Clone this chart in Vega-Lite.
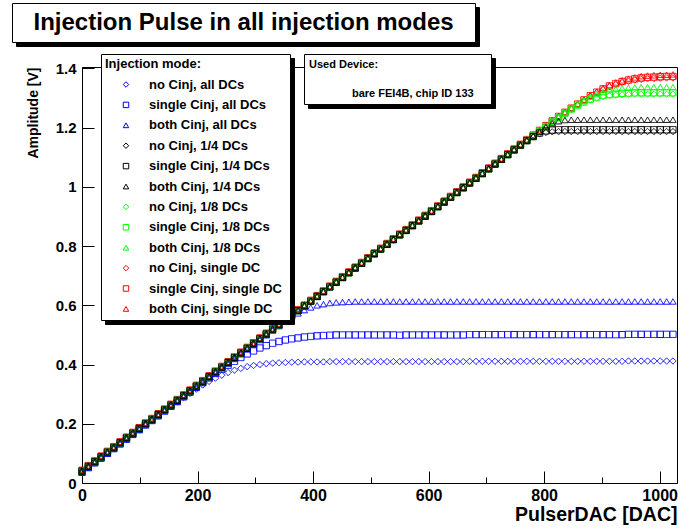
{
"$schema": "https://vega.github.io/schema/vega-lite/v6.json",
"width": 595, "height": 416,
"autosize": "none",
"padding": {"left": 82, "top": 67, "right": 4, "bottom": 48},
"background": "white",
"config": {"font": "Liberation Sans", "view": {"stroke": "black", "strokeWidth": 1}},
"datasets": {
"rows": [
{"x":0,"b1":0.036,"b2":0.036,"b3":0.036,"r1":0.043,"r2":0.043,"r3":0.043,"g1":0.04,"g2":0.04,"g3":0.04,"k1":0.04,"k2":0.04,"k3":0.04},
{"x":11,"b1":0.052,"b2":0.052,"b3":0.052,"r1":0.059,"r2":0.059,"r3":0.059,"g1":0.056,"g2":0.056,"g3":0.056,"k1":0.056,"k2":0.056,"k3":0.056},
{"x":22,"b1":0.068,"b2":0.068,"b3":0.068,"r1":0.075,"r2":0.075,"r3":0.075,"g1":0.072,"g2":0.072,"g3":0.072,"k1":0.072,"k2":0.072,"k3":0.072},
{"x":33,"b1":0.084,"b2":0.084,"b3":0.084,"r1":0.091,"r2":0.091,"r3":0.091,"g1":0.088,"g2":0.088,"g3":0.088,"k1":0.088,"k2":0.088,"k3":0.088},
{"x":44,"b1":0.1,"b2":0.1,"b3":0.1,"r1":0.107,"r2":0.107,"r3":0.107,"g1":0.104,"g2":0.104,"g3":0.104,"k1":0.104,"k2":0.104,"k3":0.104},
{"x":55,"b1":0.116,"b2":0.116,"b3":0.116,"r1":0.123,"r2":0.123,"r3":0.123,"g1":0.12,"g2":0.12,"g3":0.12,"k1":0.12,"k2":0.12,"k3":0.12},
{"x":66,"b1":0.132,"b2":0.132,"b3":0.132,"r1":0.139,"r2":0.139,"r3":0.139,"g1":0.136,"g2":0.136,"g3":0.136,"k1":0.136,"k2":0.136,"k3":0.136},
{"x":77,"b1":0.148,"b2":0.148,"b3":0.148,"r1":0.155,"r2":0.155,"r3":0.155,"g1":0.152,"g2":0.152,"g3":0.152,"k1":0.152,"k2":0.152,"k3":0.152},
{"x":88,"b1":0.164,"b2":0.164,"b3":0.164,"r1":0.171,"r2":0.171,"r3":0.171,"g1":0.168,"g2":0.168,"g3":0.168,"k1":0.168,"k2":0.168,"k3":0.168},
{"x":99,"b1":0.18,"b2":0.18,"b3":0.18,"r1":0.187,"r2":0.187,"r3":0.187,"g1":0.184,"g2":0.184,"g3":0.184,"k1":0.184,"k2":0.184,"k3":0.184},
{"x":110,"b1":0.196,"b2":0.196,"b3":0.196,"r1":0.203,"r2":0.203,"r3":0.203,"g1":0.2,"g2":0.2,"g3":0.2,"k1":0.2,"k2":0.2,"k3":0.2},
{"x":121,"b1":0.211,"b2":0.211,"b3":0.211,"r1":0.218,"r2":0.218,"r3":0.218,"g1":0.215,"g2":0.215,"g3":0.215,"k1":0.215,"k2":0.215,"k3":0.215},
{"x":132,"b1":0.227,"b2":0.227,"b3":0.227,"r1":0.234,"r2":0.234,"r3":0.234,"g1":0.231,"g2":0.231,"g3":0.231,"k1":0.231,"k2":0.231,"k3":0.231},
{"x":143,"b1":0.243,"b2":0.243,"b3":0.243,"r1":0.25,"r2":0.25,"r3":0.25,"g1":0.247,"g2":0.247,"g3":0.247,"k1":0.247,"k2":0.247,"k3":0.247},
{"x":154,"b1":0.258,"b2":0.259,"b3":0.259,"r1":0.266,"r2":0.266,"r3":0.266,"g1":0.263,"g2":0.263,"g3":0.263,"k1":0.263,"k2":0.263,"k3":0.263},
{"x":165,"b1":0.274,"b2":0.275,"b3":0.275,"r1":0.282,"r2":0.282,"r3":0.282,"g1":0.279,"g2":0.279,"g3":0.279,"k1":0.279,"k2":0.279,"k3":0.279},
{"x":176,"b1":0.289,"b2":0.291,"b3":0.291,"r1":0.298,"r2":0.298,"r3":0.298,"g1":0.295,"g2":0.295,"g3":0.295,"k1":0.295,"k2":0.295,"k3":0.295},
{"x":187,"b1":0.303,"b2":0.307,"b3":0.307,"r1":0.314,"r2":0.314,"r3":0.314,"g1":0.311,"g2":0.311,"g3":0.311,"k1":0.311,"k2":0.311,"k3":0.311},
{"x":198,"b1":0.317,"b2":0.323,"b3":0.323,"r1":0.33,"r2":0.33,"r3":0.33,"g1":0.327,"g2":0.327,"g3":0.327,"k1":0.327,"k2":0.327,"k3":0.327},
{"x":209,"b1":0.331,"b2":0.339,"b3":0.339,"r1":0.346,"r2":0.346,"r3":0.346,"g1":0.343,"g2":0.343,"g3":0.343,"k1":0.343,"k2":0.343,"k3":0.343},
{"x":220,"b1":0.343,"b2":0.355,"b3":0.355,"r1":0.362,"r2":0.362,"r3":0.362,"g1":0.359,"g2":0.359,"g3":0.359,"k1":0.359,"k2":0.359,"k3":0.359},
{"x":231,"b1":0.354,"b2":0.37,"b3":0.371,"r1":0.378,"r2":0.378,"r3":0.378,"g1":0.375,"g2":0.375,"g3":0.375,"k1":0.375,"k2":0.375,"k3":0.375},
{"x":242,"b1":0.364,"b2":0.384,"b3":0.387,"r1":0.394,"r2":0.394,"r3":0.394,"g1":0.391,"g2":0.391,"g3":0.391,"k1":0.391,"k2":0.391,"k3":0.391},
{"x":253,"b1":0.373,"b2":0.398,"b3":0.403,"r1":0.41,"r2":0.41,"r3":0.41,"g1":0.407,"g2":0.407,"g3":0.407,"k1":0.407,"k2":0.407,"k3":0.407},
{"x":264,"b1":0.381,"b2":0.411,"b3":0.419,"r1":0.426,"r2":0.426,"r3":0.426,"g1":0.423,"g2":0.423,"g3":0.423,"k1":0.423,"k2":0.423,"k3":0.423},
{"x":275,"b1":0.387,"b2":0.424,"b3":0.435,"r1":0.442,"r2":0.442,"r3":0.442,"g1":0.439,"g2":0.439,"g3":0.439,"k1":0.439,"k2":0.439,"k3":0.439},
{"x":286,"b1":0.393,"b2":0.436,"b3":0.451,"r1":0.458,"r2":0.458,"r3":0.458,"g1":0.455,"g2":0.455,"g3":0.455,"k1":0.455,"k2":0.455,"k3":0.455},
{"x":297,"b1":0.397,"b2":0.446,"b3":0.467,"r1":0.474,"r2":0.474,"r3":0.474,"g1":0.471,"g2":0.471,"g3":0.471,"k1":0.471,"k2":0.471,"k3":0.471},
{"x":308,"b1":0.4,"b2":0.456,"b3":0.483,"r1":0.49,"r2":0.49,"r3":0.49,"g1":0.487,"g2":0.487,"g3":0.487,"k1":0.487,"k2":0.487,"k3":0.487},
{"x":319,"b1":0.403,"b2":0.464,"b3":0.499,"r1":0.506,"r2":0.506,"r3":0.506,"g1":0.503,"g2":0.503,"g3":0.503,"k1":0.503,"k2":0.503,"k3":0.503},
{"x":330,"b1":0.405,"b2":0.472,"b3":0.515,"r1":0.522,"r2":0.522,"r3":0.522,"g1":0.519,"g2":0.519,"g3":0.519,"k1":0.519,"k2":0.519,"k3":0.519},
{"x":341,"b1":0.406,"b2":0.478,"b3":0.53,"r1":0.537,"r2":0.537,"r3":0.537,"g1":0.534,"g2":0.534,"g3":0.534,"k1":0.534,"k2":0.534,"k3":0.534},
{"x":352,"b1":0.407,"b2":0.483,"b3":0.546,"r1":0.553,"r2":0.553,"r3":0.553,"g1":0.55,"g2":0.55,"g3":0.55,"k1":0.55,"k2":0.55,"k3":0.55},
{"x":363,"b1":0.408,"b2":0.487,"b3":0.56,"r1":0.569,"r2":0.569,"r3":0.569,"g1":0.566,"g2":0.566,"g3":0.566,"k1":0.566,"k2":0.566,"k3":0.566},
{"x":374,"b1":0.408,"b2":0.49,"b3":0.573,"r1":0.585,"r2":0.585,"r3":0.585,"g1":0.582,"g2":0.582,"g3":0.582,"k1":0.582,"k2":0.582,"k3":0.582},
{"x":385,"b1":0.409,"b2":0.493,"b3":0.584,"r1":0.601,"r2":0.601,"r3":0.601,"g1":0.598,"g2":0.598,"g3":0.598,"k1":0.598,"k2":0.598,"k3":0.598},
{"x":396,"b1":0.409,"b2":0.495,"b3":0.593,"r1":0.617,"r2":0.617,"r3":0.617,"g1":0.614,"g2":0.614,"g3":0.614,"k1":0.614,"k2":0.614,"k3":0.614},
{"x":407,"b1":0.409,"b2":0.497,"b3":0.6,"r1":0.633,"r2":0.633,"r3":0.633,"g1":0.63,"g2":0.63,"g3":0.63,"k1":0.63,"k2":0.63,"k3":0.63},
{"x":418,"b1":0.409,"b2":0.498,"b3":0.604,"r1":0.649,"r2":0.649,"r3":0.649,"g1":0.646,"g2":0.646,"g3":0.646,"k1":0.646,"k2":0.646,"k3":0.646},
{"x":429,"b1":0.41,"b2":0.499,"b3":0.608,"r1":0.665,"r2":0.665,"r3":0.665,"g1":0.662,"g2":0.662,"g3":0.662,"k1":0.662,"k2":0.662,"k3":0.662},
{"x":440,"b1":0.41,"b2":0.5,"b3":0.61,"r1":0.681,"r2":0.681,"r3":0.681,"g1":0.678,"g2":0.678,"g3":0.678,"k1":0.678,"k2":0.678,"k3":0.678},
{"x":451,"b1":0.41,"b2":0.5,"b3":0.611,"r1":0.697,"r2":0.697,"r3":0.697,"g1":0.694,"g2":0.694,"g3":0.694,"k1":0.694,"k2":0.694,"k3":0.694},
{"x":462,"b1":0.41,"b2":0.5,"b3":0.612,"r1":0.713,"r2":0.713,"r3":0.713,"g1":0.71,"g2":0.71,"g3":0.71,"k1":0.71,"k2":0.71,"k3":0.71},
{"x":473,"b1":0.41,"b2":0.5,"b3":0.613,"r1":0.729,"r2":0.729,"r3":0.729,"g1":0.726,"g2":0.726,"g3":0.726,"k1":0.726,"k2":0.726,"k3":0.726},
{"x":484,"b1":0.41,"b2":0.5,"b3":0.613,"r1":0.745,"r2":0.745,"r3":0.745,"g1":0.742,"g2":0.742,"g3":0.742,"k1":0.742,"k2":0.742,"k3":0.742},
{"x":495,"b1":0.41,"b2":0.5,"b3":0.613,"r1":0.761,"r2":0.761,"r3":0.761,"g1":0.758,"g2":0.758,"g3":0.758,"k1":0.758,"k2":0.758,"k3":0.758},
{"x":506,"b1":0.41,"b2":0.5,"b3":0.613,"r1":0.777,"r2":0.777,"r3":0.777,"g1":0.774,"g2":0.774,"g3":0.774,"k1":0.774,"k2":0.774,"k3":0.774},
{"x":517,"b1":0.41,"b2":0.5,"b3":0.613,"r1":0.793,"r2":0.793,"r3":0.793,"g1":0.79,"g2":0.79,"g3":0.79,"k1":0.79,"k2":0.79,"k3":0.79},
{"x":528,"b1":0.41,"b2":0.5,"b3":0.613,"r1":0.809,"r2":0.809,"r3":0.809,"g1":0.806,"g2":0.806,"g3":0.806,"k1":0.806,"k2":0.806,"k3":0.806},
{"x":539,"b1":0.41,"b2":0.5,"b3":0.613,"r1":0.825,"r2":0.825,"r3":0.825,"g1":0.822,"g2":0.822,"g3":0.822,"k1":0.822,"k2":0.822,"k3":0.822},
{"x":550,"b1":0.41,"b2":0.499,"b3":0.613,"r1":0.841,"r2":0.841,"r3":0.841,"g1":0.838,"g2":0.838,"g3":0.838,"k1":0.838,"k2":0.838,"k3":0.838},
{"x":561,"b1":0.41,"b2":0.5,"b3":0.613,"r1":0.856,"r2":0.856,"r3":0.856,"g1":0.853,"g2":0.853,"g3":0.853,"k1":0.853,"k2":0.853,"k3":0.853},
{"x":572,"b1":0.41,"b2":0.5,"b3":0.613,"r1":0.872,"r2":0.872,"r3":0.872,"g1":0.869,"g2":0.869,"g3":0.869,"k1":0.869,"k2":0.869,"k3":0.869},
{"x":583,"b1":0.41,"b2":0.5,"b3":0.613,"r1":0.888,"r2":0.888,"r3":0.888,"g1":0.885,"g2":0.885,"g3":0.885,"k1":0.885,"k2":0.885,"k3":0.885},
{"x":594,"b1":0.41,"b2":0.5,"b3":0.613,"r1":0.904,"r2":0.904,"r3":0.904,"g1":0.901,"g2":0.901,"g3":0.901,"k1":0.901,"k2":0.901,"k3":0.901},
{"x":605,"b1":0.41,"b2":0.5,"b3":0.613,"r1":0.92,"r2":0.92,"r3":0.92,"g1":0.917,"g2":0.917,"g3":0.917,"k1":0.917,"k2":0.917,"k3":0.917},
{"x":616,"b1":0.41,"b2":0.5,"b3":0.613,"r1":0.936,"r2":0.936,"r3":0.936,"g1":0.933,"g2":0.933,"g3":0.933,"k1":0.933,"k2":0.933,"k3":0.933},
{"x":627,"b1":0.41,"b2":0.5,"b3":0.613,"r1":0.952,"r2":0.952,"r3":0.952,"g1":0.949,"g2":0.949,"g3":0.949,"k1":0.949,"k2":0.949,"k3":0.949},
{"x":638,"b1":0.41,"b2":0.5,"b3":0.613,"r1":0.968,"r2":0.968,"r3":0.968,"g1":0.965,"g2":0.965,"g3":0.965,"k1":0.965,"k2":0.965,"k3":0.965},
{"x":649,"b1":0.41,"b2":0.5,"b3":0.613,"r1":0.984,"r2":0.984,"r3":0.984,"g1":0.981,"g2":0.981,"g3":0.981,"k1":0.981,"k2":0.981,"k3":0.981},
{"x":660,"b1":0.41,"b2":0.5,"b3":0.613,"r1":1.0,"r2":1.0,"r3":1.0,"g1":0.997,"g2":0.997,"g3":0.997,"k1":0.997,"k2":0.997,"k3":0.997},
{"x":671,"b1":0.411,"b2":0.501,"b3":0.613,"r1":1.016,"r2":1.016,"r3":1.016,"g1":1.013,"g2":1.013,"g3":1.013,"k1":1.013,"k2":1.013,"k3":1.013},
{"x":682,"b1":0.411,"b2":0.501,"b3":0.613,"r1":1.032,"r2":1.032,"r3":1.032,"g1":1.029,"g2":1.029,"g3":1.029,"k1":1.029,"k2":1.029,"k3":1.029},
{"x":693,"b1":0.411,"b2":0.501,"b3":0.613,"r1":1.048,"r2":1.048,"r3":1.048,"g1":1.045,"g2":1.045,"g3":1.045,"k1":1.045,"k2":1.045,"k3":1.045},
{"x":704,"b1":0.411,"b2":0.501,"b3":0.613,"r1":1.064,"r2":1.064,"r3":1.064,"g1":1.061,"g2":1.061,"g3":1.061,"k1":1.061,"k2":1.061,"k3":1.061},
{"x":715,"b1":0.411,"b2":0.501,"b3":0.613,"r1":1.08,"r2":1.08,"r3":1.08,"g1":1.077,"g2":1.077,"g3":1.077,"k1":1.077,"k2":1.077,"k3":1.077},
{"x":726,"b1":0.411,"b2":0.501,"b3":0.613,"r1":1.096,"r2":1.096,"r3":1.096,"g1":1.093,"g2":1.093,"g3":1.093,"k1":1.093,"k2":1.093,"k3":1.093},
{"x":737,"b1":0.411,"b2":0.501,"b3":0.613,"r1":1.112,"r2":1.112,"r3":1.112,"g1":1.109,"g2":1.109,"g3":1.109,"k1":1.109,"k2":1.109,"k3":1.109},
{"x":748,"b1":0.411,"b2":0.501,"b3":0.613,"r1":1.128,"r2":1.128,"r3":1.128,"g1":1.125,"g2":1.125,"g3":1.125,"k1":1.125,"k2":1.125,"k3":1.125},
{"x":759,"b1":0.411,"b2":0.501,"b3":0.613,"r1":1.144,"r2":1.144,"r3":1.144,"g1":1.141,"g2":1.141,"g3":1.141,"k1":1.141,"k2":1.141,"k3":1.141},
{"x":770,"b1":0.411,"b2":0.501,"b3":0.613,"r1":1.16,"r2":1.16,"r3":1.16,"g1":1.157,"g2":1.157,"g3":1.157,"k1":1.156,"k2":1.156,"k3":1.157},
{"x":781,"b1":0.411,"b2":0.501,"b3":0.613,"r1":1.175,"r2":1.175,"r3":1.175,"g1":1.172,"g2":1.172,"g3":1.172,"k1":1.169,"k2":1.17,"k3":1.172},
{"x":792,"b1":0.411,"b2":0.501,"b3":0.613,"r1":1.191,"r2":1.191,"r3":1.191,"g1":1.188,"g2":1.188,"g3":1.188,"k1":1.179,"k2":1.182,"k3":1.187},
{"x":803,"b1":0.411,"b2":0.501,"b3":0.613,"r1":1.207,"r2":1.207,"r3":1.207,"g1":1.203,"g2":1.203,"g3":1.204,"k1":1.184,"k2":1.189,"k3":1.202},
{"x":814,"b1":0.411,"b2":0.501,"b3":0.613,"r1":1.223,"r2":1.223,"r3":1.223,"g1":1.219,"g2":1.219,"g3":1.22,"k1":1.186,"k2":1.192,"k3":1.215},
{"x":825,"b1":0.411,"b2":0.501,"b3":0.613,"r1":1.238,"r2":1.238,"r3":1.238,"g1":1.234,"g2":1.234,"g3":1.235,"k1":1.187,"k2":1.193,"k3":1.222},
{"x":836,"b1":0.411,"b2":0.501,"b3":0.613,"r1":1.252,"r2":1.252,"r3":1.252,"g1":1.248,"g2":1.249,"g3":1.25,"k1":1.187,"k2":1.193,"k3":1.226},
{"x":847,"b1":0.411,"b2":0.501,"b3":0.613,"r1":1.266,"r2":1.266,"r3":1.267,"g1":1.262,"g2":1.263,"g3":1.265,"k1":1.187,"k2":1.193,"k3":1.227},
{"x":858,"b1":0.411,"b2":0.501,"b3":0.613,"r1":1.279,"r2":1.28,"r3":1.281,"g1":1.274,"g2":1.276,"g3":1.279,"k1":1.187,"k2":1.193,"k3":1.227},
{"x":869,"b1":0.411,"b2":0.501,"b3":0.613,"r1":1.293,"r2":1.294,"r3":1.295,"g1":1.285,"g2":1.287,"g3":1.292,"k1":1.187,"k2":1.193,"k3":1.227},
{"x":880,"b1":0.411,"b2":0.501,"b3":0.613,"r1":1.307,"r2":1.308,"r3":1.309,"g1":1.294,"g2":1.296,"g3":1.304,"k1":1.187,"k2":1.193,"k3":1.227},
{"x":891,"b1":0.411,"b2":0.501,"b3":0.613,"r1":1.319,"r2":1.32,"r3":1.322,"g1":1.3,"g2":1.303,"g3":1.314,"k1":1.187,"k2":1.193,"k3":1.227},
{"x":902,"b1":0.411,"b2":0.501,"b3":0.613,"r1":1.329,"r2":1.331,"r3":1.334,"g1":1.305,"g2":1.309,"g3":1.321,"k1":1.187,"k2":1.193,"k3":1.227},
{"x":913,"b1":0.411,"b2":0.501,"b3":0.613,"r1":1.339,"r2":1.341,"r3":1.344,"g1":1.308,"g2":1.312,"g3":1.327,"k1":1.187,"k2":1.193,"k3":1.227},
{"x":924,"b1":0.411,"b2":0.501,"b3":0.613,"r1":1.346,"r2":1.349,"r3":1.353,"g1":1.31,"g2":1.314,"g3":1.331,"k1":1.187,"k2":1.193,"k3":1.227},
{"x":935,"b1":0.411,"b2":0.501,"b3":0.613,"r1":1.352,"r2":1.356,"r3":1.36,"g1":1.311,"g2":1.316,"g3":1.333,"k1":1.187,"k2":1.193,"k3":1.227},
{"x":946,"b1":0.412,"b2":0.502,"b3":0.613,"r1":1.357,"r2":1.361,"r3":1.366,"g1":1.312,"g2":1.317,"g3":1.335,"k1":1.187,"k2":1.193,"k3":1.227},
{"x":957,"b1":0.412,"b2":0.502,"b3":0.613,"r1":1.361,"r2":1.365,"r3":1.37,"g1":1.313,"g2":1.318,"g3":1.336,"k1":1.187,"k2":1.193,"k3":1.227},
{"x":968,"b1":0.412,"b2":0.502,"b3":0.613,"r1":1.363,"r2":1.368,"r3":1.374,"g1":1.313,"g2":1.318,"g3":1.337,"k1":1.187,"k2":1.193,"k3":1.227},
{"x":979,"b1":0.412,"b2":0.502,"b3":0.613,"r1":1.365,"r2":1.37,"r3":1.376,"g1":1.313,"g2":1.318,"g3":1.337,"k1":1.187,"k2":1.193,"k3":1.227},
{"x":990,"b1":0.412,"b2":0.502,"b3":0.613,"r1":1.366,"r2":1.371,"r3":1.377,"g1":1.313,"g2":1.318,"g3":1.337,"k1":1.187,"k2":1.193,"k3":1.227},
{"x":1001,"b1":0.412,"b2":0.502,"b3":0.613,"r1":1.367,"r2":1.372,"r3":1.379,"g1":1.313,"g2":1.318,"g3":1.337,"k1":1.187,"k2":1.193,"k3":1.227},
{"x":1012,"b1":0.412,"b2":0.502,"b3":0.613,"r1":1.368,"r2":1.373,"r3":1.379,"g1":1.313,"g2":1.318,"g3":1.337,"k1":1.187,"k2":1.193,"k3":1.227},
{"x":1023,"b1":0.412,"b2":0.502,"b3":0.613,"r1":1.368,"r2":1.373,"r3":1.38,"g1":1.313,"g2":1.318,"g3":1.337,"k1":1.187,"k2":1.193,"k3":1.227}
],
"names": [
{"key":"b1","series":"no Cinj, all DCs"},
{"key":"b2","series":"single Cinj, all DCs"},
{"key":"b3","series":"both Cinj, all DCs"},
{"key":"k1","series":"no Cinj, 1/4 DCs"},
{"key":"k2","series":"single Cinj, 1/4 DCs"},
{"key":"k3","series":"both Cinj, 1/4 DCs"},
{"key":"g1","series":"no Cinj, 1/8 DCs"},
{"key":"g2","series":"single Cinj, 1/8 DCs"},
{"key":"g3","series":"both Cinj, 1/8 DCs"},
{"key":"r1","series":"no Cinj, single DC"},
{"key":"r2","series":"single Cinj, single DC"},
{"key":"r3","series":"both Cinj, single DC"}
],
"info": [
{"x":0,"amp":0,"dev":"bare FEI4B, chip ID 133","dev2":"bare FEI4B, chip ID 133","t":"Injection Pulse in all injection modes","t2":"Injection Pulse in all injection modes"}
]
},
"layer": [
{
"data": {"name": "rows"},
"transform": [
{"fold": ["b1","b2","b3","r1","r2","r3","g1","g2","g3","k1","k2","k3"], "as": ["key","amp"]},
{"lookup": "key", "from": {"data": {"name": "names"}, "key": "key", "fields": ["series"]}}
],
"mark": {"type": "point", "filled": false, "strokeWidth": 1, "size": 40, "opacity": 1},
"encoding": {
"x": {"field": "x", "type": "quantitative",
 "scale": {"domain": [0, 1030], "nice": false, "zero": false},
 "axis": {"values": [0,50,100,150,200,250,300,350,400,450,500,550,600,650,700,750,800,850,900,950,1000],
  "format": "d", "labelExpr": "datum.value % 200 === 0 ? datum.label : ''",
  "tickSize": {"condition": {"test": "datum.value % 200 === 0", "value": -12}, "value": -6},
  "tickColor": "black", "domainColor": "black", "grid": false, "labelFlush": false, "labelOverlap": false,
  "labelFontSize": 16, "labelFontWeight": "bold", "labelColor": "black", "labelPadding": 16,
  "title": "PulserDAC [DAC]", "titleAnchor": "end", "titleFontSize": 19.5, "titleFontWeight": "bold", "titleColor": "black", "titlePadding": -4}},
"y": {"field": "amp", "type": "quantitative",
 "scale": {"domain": [0, 1.405], "nice": false, "zero": false},
 "axis": {"values": [0,0.05,0.1,0.15,0.2,0.25,0.3,0.35,0.4,0.45,0.5,0.55,0.6,0.65,0.7,0.75,0.8,0.85,0.9,0.95,1,1.05,1.1,1.15,1.2,1.25,1.3,1.35,1.4],
  "format": "~g", "labelExpr": "abs(datum.value*5 - round(datum.value*5)) < 0.001 ? datum.label : ''",
  "tickSize": {"condition": {"test": "abs(datum.value*5 - round(datum.value*5)) < 0.001", "value": -12}, "value": -6},
  "tickColor": "black", "domainColor": "black", "grid": false, "labelOverlap": false, "labelFlush": false,
  "labelFontSize": 15, "labelFontWeight": "bold", "labelColor": "black", "labelPadding": 18,
  "title": "Amplitude [V]", "titleAnchor": "end", "titleFontSize": 14, "titleFontWeight": "bold", "titleColor": "black", "titlePadding": 15}},
"color": {"field": "series", "type": "nominal",
 "scale": {"domain": ["no Cinj, all DCs","single Cinj, all DCs","both Cinj, all DCs","no Cinj, 1/4 DCs","single Cinj, 1/4 DCs","both Cinj, 1/4 DCs","no Cinj, 1/8 DCs","single Cinj, 1/8 DCs","both Cinj, 1/8 DCs","no Cinj, single DC","single Cinj, single DC","both Cinj, single DC"],
  "range": ["#0000ff","#0000ff","#0000ff","#000000","#000000","#000000","#00ff00","#00ff00","#00ff00","#ff0000","#ff0000","#ff0000"]},
 "legend": {"title": "Injection mode:", "orient": "none", "legendX": 19, "legendY": -13, "zindex": 3,
  "fillColor": "white", "strokeColor": "black", "padding": 4,
  "titleFontSize": 13, "titleFontWeight": "bold", "titleColor": "black", "titlePadding": 7,
  "labelFontSize": 13, "labelFontWeight": "bold", "labelColor": "black", "labelLimit": 300,
  "labelExpr": "datum.label + '\u00a0\u200b'",
  "rowPadding": 6.4, "symbolSize": 30, "symbolStrokeWidth": 1, "symbolOffset": 14.5, "labelOffset": 16.5}},
"shape": {"field": "series", "type": "nominal",
 "scale": {"domain": ["no Cinj, all DCs","single Cinj, all DCs","both Cinj, all DCs","no Cinj, 1/4 DCs","single Cinj, 1/4 DCs","both Cinj, 1/4 DCs","no Cinj, 1/8 DCs","single Cinj, 1/8 DCs","both Cinj, 1/8 DCs","no Cinj, single DC","single Cinj, single DC","both Cinj, single DC"],
  "range": ["diamond","square","triangle-up","diamond","square","triangle-up","diamond","square","triangle-up","diamond","square","triangle-up"]},
 "legend": {"title": "Injection mode:", "orient": "none", "legendX": 19, "legendY": -13, "zindex": 3,
  "fillColor": "white", "strokeColor": "black", "padding": 4,
  "titleFontSize": 13, "titleFontWeight": "bold", "titleColor": "black", "titlePadding": 7,
  "labelFontSize": 13, "labelFontWeight": "bold", "labelColor": "black", "labelLimit": 300,
  "labelExpr": "datum.label + '\u00a0\u200b'",
  "rowPadding": 6.4, "symbolSize": 30, "symbolStrokeWidth": 1, "symbolOffset": 14.5, "labelOffset": 16.5}},
"strokeDash": {"field": "series", "type": "nominal",
 "scale": {"range": [[1,0]]},
 "legend": {"title": "Injection mode:", "orient": "none", "legendX": 23, "legendY": -9, "zindex": 2,
  "fillColor": "black", "strokeColor": "black", "padding": 4,
  "titleFontSize": 13, "titleFontWeight": "bold", "titleColor": "black", "titlePadding": 7,
  "labelFontSize": 13, "labelFontWeight": "bold", "labelColor": "black", "labelLimit": 300,
  "labelExpr": "datum.label + '\u00a0\u200b'",
  "rowPadding": 6.4, "symbolSize": 30, "symbolStrokeWidth": 1, "symbolOffset": 14.5, "labelOffset": 16.5,
  "symbolType": "circle", "symbolFillColor": "black", "symbolStrokeColor": "black"}}
}
},
{
"data": {"name": "info"},
"mark": {"type": "point", "opacity": 0, "size": 1},
"encoding": {
"x": {"field": "x", "type": "quantitative"},
"y": {"field": "amp", "type": "quantitative"},
"fill": {"field": "dev", "type": "nominal", "scale": {"range": ["white"]},
 "legend": {"title": "Used Device:", "orient": "none", "legendX": 222, "legendY": -13, "zindex": 3,
  "fillColor": "white", "strokeColor": "black", "padding": 5,
  "titleFontSize": 11, "titleFontWeight": "bold", "titleColor": "black", "titlePadding": 18,
  "labelFontSize": 11, "labelFontWeight": "bold", "labelColor": "black", "labelLimit": 300,
  "labelExpr": "datum.label + '\u00a0\u00a0\u00a0\u00a0\u200b'",
  "symbolSize": 30, "symbolOpacity": 0, "symbolOffset": 0, "labelOffset": 32}},
"stroke": {"field": "dev2", "type": "nominal", "scale": {"range": ["black"]},
 "legend": {"title": "Used Device:", "orient": "none", "legendX": 226, "legendY": -9, "zindex": 2,
  "fillColor": "black", "strokeColor": "black", "padding": 5,
  "titleFontSize": 11, "titleFontWeight": "bold", "titleColor": "black", "titlePadding": 18,
  "labelFontSize": 11, "labelFontWeight": "bold", "labelColor": "black", "labelLimit": 300,
  "labelExpr": "datum.label + '\u00a0\u00a0\u00a0\u00a0\u200b'",
  "symbolSize": 30, "symbolOpacity": 0, "symbolOffset": 0, "labelOffset": 32}},
"shape": {"field": "t", "type": "nominal", "scale": {"range": ["circle"]},
 "legend": {"title": null, "orient": "none", "legendX": -70, "legendY": -64, "zindex": 3,
  "fillColor": "white", "strokeColor": "black", "padding": 7.5,
  "labelFontSize": 24, "labelFontWeight": "bold", "labelColor": "black", "labelLimit": 700,
  "labelExpr": "datum.label + '\u00a0\u00a0\u200b'",
  "symbolSize": 30, "symbolOpacity": 0, "symbolOffset": 0, "labelOffset": -10}},
"strokeDash": {"field": "t2", "type": "nominal", "scale": {"range": [[1,0]]},
 "legend": {"title": null, "orient": "none", "legendX": -66, "legendY": -60, "zindex": 2,
  "fillColor": "black", "strokeColor": "black", "padding": 7.5,
  "labelFontSize": 24, "labelFontWeight": "bold", "labelColor": "black", "labelLimit": 700,
  "labelExpr": "datum.label + '\u00a0\u00a0\u200b'",
  "symbolSize": 30, "symbolOpacity": 0, "symbolOffset": 0, "labelOffset": -10}}
}
}
],
"resolve": {"scale": {"color": "independent", "shape": "independent", "strokeDash": "independent", "fill": "independent", "stroke": "independent"}}
}
